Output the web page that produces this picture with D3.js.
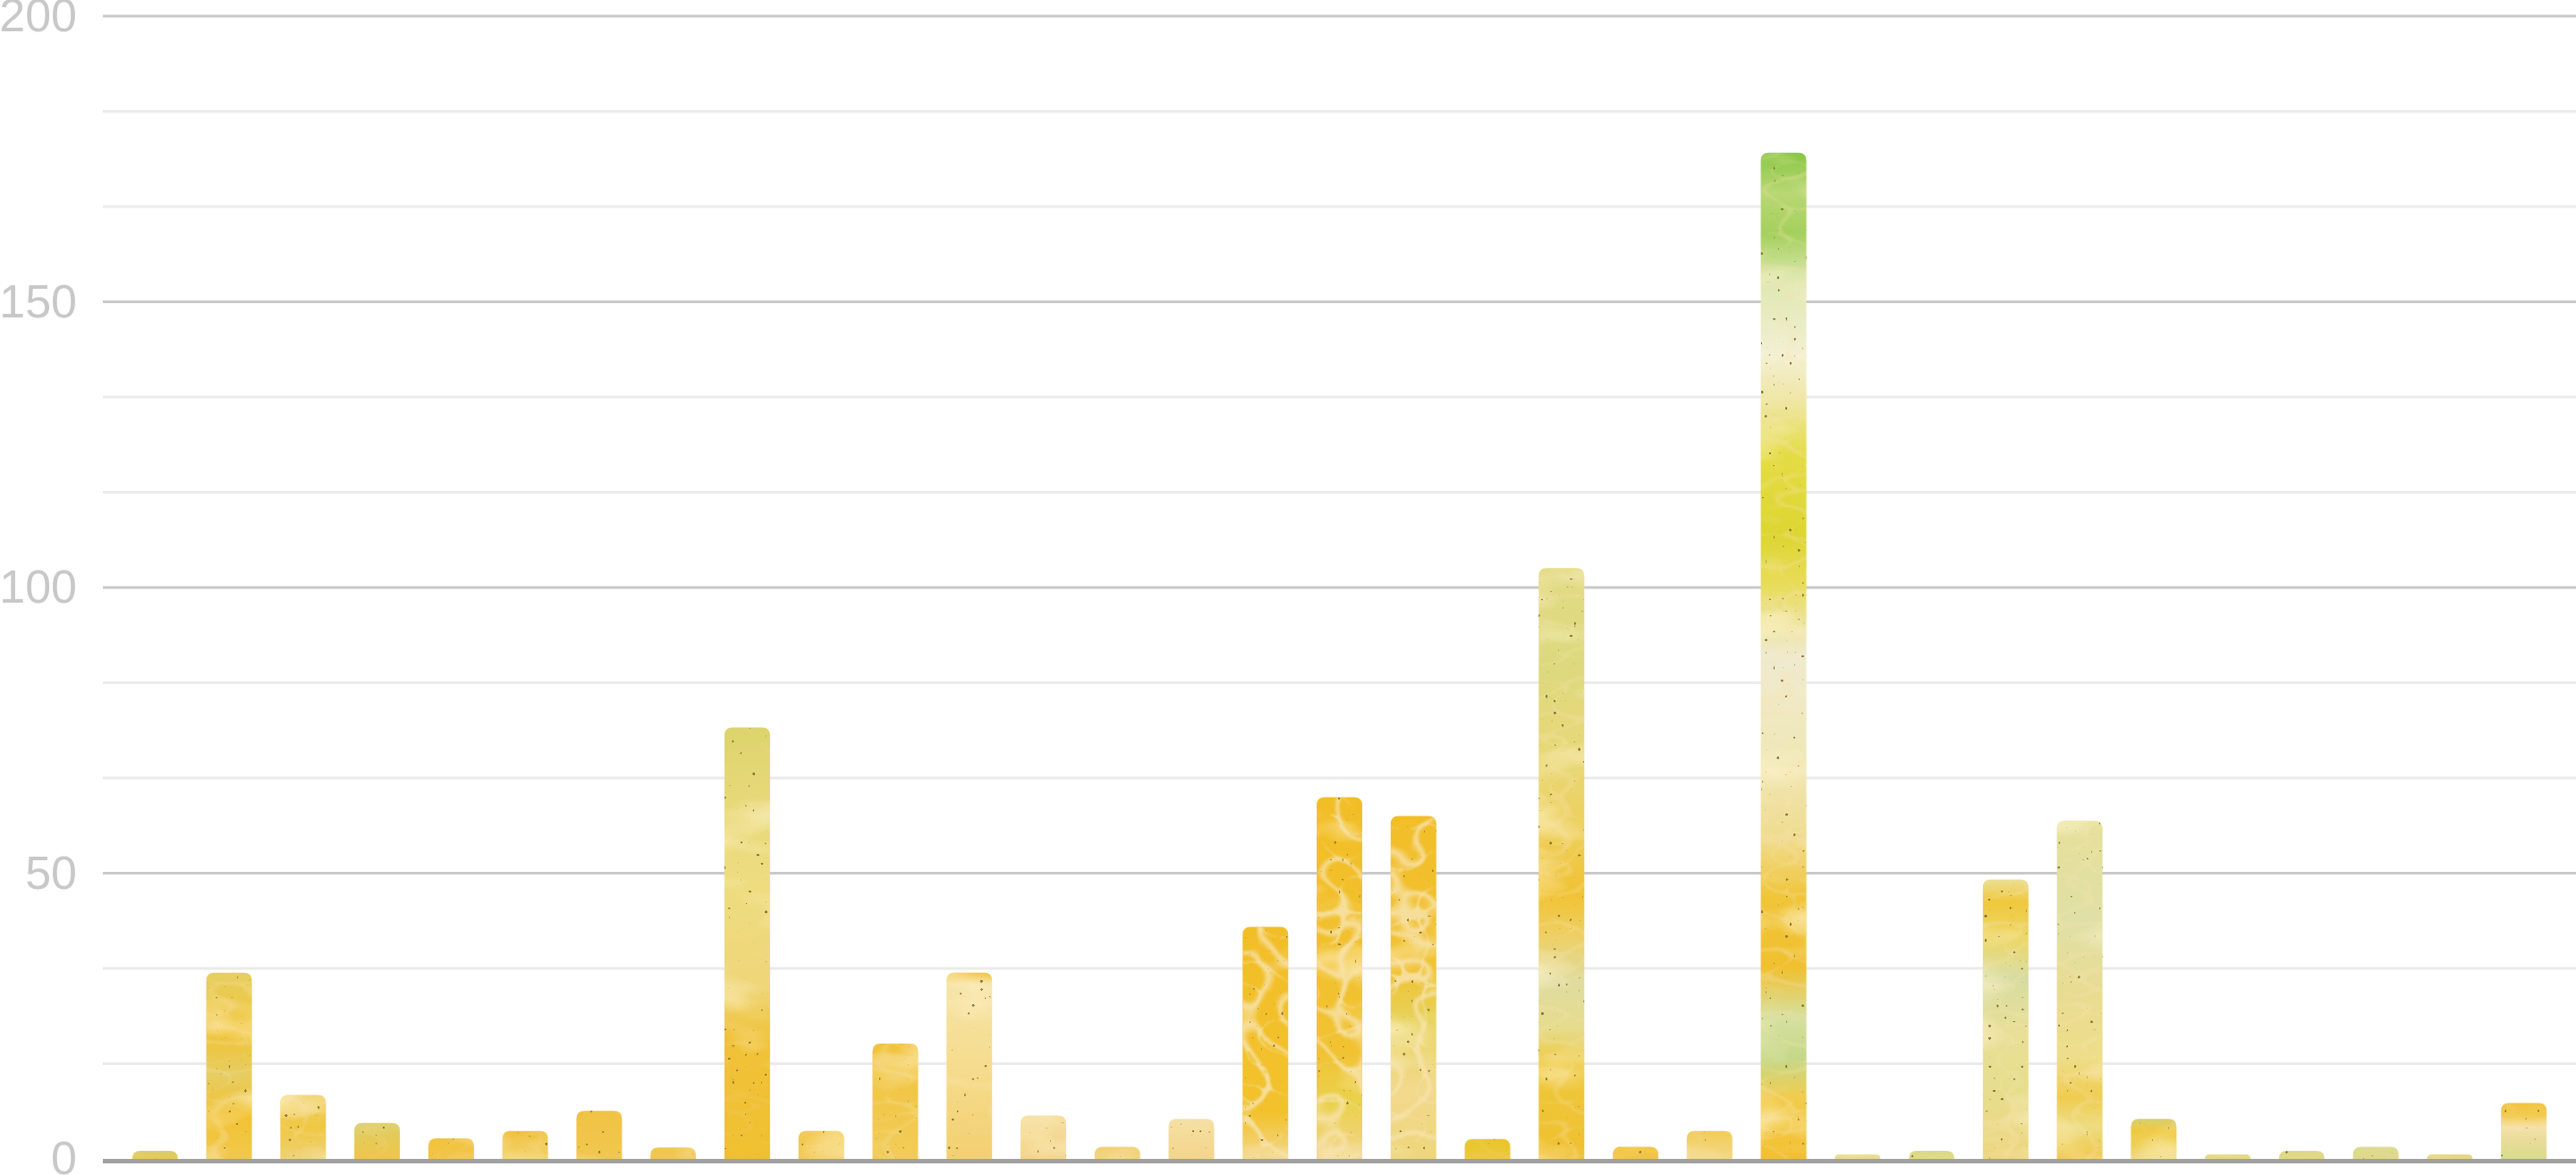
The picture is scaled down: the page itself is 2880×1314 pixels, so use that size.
<!DOCTYPE html>
<html>
<head>
<meta charset="utf-8">
<script src="https://cdn.jsdelivr.net/npm/d3@7"></script>
<style>
  html, body { margin: 0; padding: 0; background: #ffffff; }
  svg { display: block; }
</style>
</head>
<body>
<script>
// ---------- data ----------
const categories = d3.range(1, 34).map(i => "Item " + i);
const values = [1.4, 32.6, 11.2, 6.3, 3.6, 4.9, 8.4, 2.0, 75.5, 4.9, 20.2, 32.6, 7.6, 2.1, 7.0,
                40.6, 63.3, 60.0, 3.5, 103.4, 2.1, 4.9, 176.1, 0.8, 1.4, 48.9, 59.2, 7.0, 0.8, 1.4, 2.1, 0.8, 9.8];
const majorTicks = [0, 50, 100, 150, 200];
const minorTicks = [50/3, 100/3, 200/3, 250/3, 350/3, 400/3, 500/3, 550/3];

// ---------- styles (texture colours, top -> bottom) ----------
const barFills = [
 [[0,"#d3cf6e"],[1,"#ecc94c"]],
 [[0,"#e6cf62"],[0.3,"#f1c230"],[0.55,"#e6cd62"],[0.75,"#f2c232"],[1,"#f1c84c"]],
 [[0,"#efcf66"],[0.5,"#f0c845"],[1,"#eed070"]],
 [[0,"#dccd62"],[1,"#f1c648"]],
 [[0,"#f1c33c"],[1,"#f2c545"]],
 [[0,"#f0c340"],[1,"#f1c84c"]],
 [[0,"#f1c244"],[1,"#f0c84e"]],
 [[0,"#efc64a"],[1,"#f0c850"]],
 [[0,"#dcd46c"],[0.12,"#e5d776"],[0.35,"#eedd80"],[0.6,"#efd678"],[0.72,"#f0c238"],[1,"#f0c030"]],
 [[0,"#f1c33e"],[1,"#f1c84c"]],
 [[0,"#f1c33c"],[1,"#f2cc58"]],
 [[0,"#f0c030"],[0.06,"#f6e4a6"],[0.5,"#f5dc8e"],[1,"#f3d070"]],
 [[0,"#f5dd9c"],[1,"#f4d58a"]],
 [[0,"#f2cf72"],[1,"#f3d57e"]],
 [[0,"#f6e0a4"],[1,"#f3d58a"]],
 [[0,"#f2be28"],[0.8,"#f2c22c"],[1,"#f3d68a"]],
 [[0,"#f2be26"],[0.7,"#f1c232"],[0.85,"#ead24e"],[1,"#f2d48a"]],
 [[0,"#f2be28"],[0.45,"#f1c234"],[0.6,"#e6d25a"],[0.8,"#f2d98e"],[1,"#eed67a"]],
 [[0,"#e8c628"],[1,"#edc840"]],
 [[0,"#e2dc86"],[0.15,"#dcd97e"],[0.32,"#e8d878"],[0.45,"#eecf5a"],[0.55,"#f1c232"],[0.62,"#efcf62"],[0.7,"#dedca0"],[0.78,"#e6dc8c"],[0.84,"#eec83c"],[1,"#f0c030"]],
 [[0,"#f0c032"],[1,"#f1c53e"]],
 [[0,"#f1cc58"],[1,"#f4d886"]],
 [[0,"#88c644"],[0.04,"#b8d874"],[0.08,"#a4d05c"],[0.13,"#dfe8b2"],[0.2,"#f3f0d4"],[0.25,"#eee6a0"],[0.3,"#e4dc44"],[0.38,"#dcd632"],[0.43,"#e8dc5a"],[0.5,"#f0ead0"],[0.6,"#efe8b8"],[0.68,"#f0dc90"],[0.74,"#f0c538"],[0.81,"#f0c030"],[0.86,"#d6e0a0"],[0.9,"#c4d888"],[0.94,"#f2cc4c"],[1,"#f2c030"]],
 [[0,"#e8dc88"],[1,"#e6d680"]],
 [[0,"#d6da84"],[1,"#e4da86"]],
 [[0,"#ecdf94"],[0.08,"#f0c83c"],[0.22,"#ecd86c"],[0.35,"#d6dca0"],[0.55,"#e8e098"],[0.8,"#e6dc8a"],[1,"#efd680"]],
 [[0,"#e6e09a"],[0.3,"#dfe0a6"],[0.5,"#e8dc92"],[0.7,"#eede8a"],[0.82,"#f0cc50"],[0.9,"#eddc80"],[1,"#f0c848"]],
 [[0,"#d6d070"],[0.3,"#f0c83c"],[0.7,"#eed25a"],[1,"#f0d474"]],
 [[0,"#e4dc84"],[1,"#e8d880"]],
 [[0,"#dcda86"],[1,"#e4d882"]],
 [[0,"#dcdc92"],[1,"#e0d888"]],
 [[0,"#e6d884"],[1,"#e8d680"]],
 [[0,"#f0b81a"],[0.25,"#f1c640"],[0.45,"#f4e0a8"],[0.7,"#e8dc98"],[1,"#d8dc8e"]]
];
const barTexture = ["soft","mid","mid","soft","soft","soft","soft","soft","soft","soft","mid","soft","soft","soft","soft",
                    "strong","strong","strong","soft","mid","soft","soft","mid","soft","soft","mid","mid","soft","soft","soft","soft","soft","soft"];

// ---------- layout ----------
const W = 2880, H = 1314;
const svg = d3.select("body").append("svg").attr("width", W).attr("height", H);

const x = d3.scaleBand().domain(categories).range([115, 2880]).paddingInner(0.384).paddingOuter(0.397);
const y = d3.scaleLinear().domain([0, 200]).range([1296, 18]);

const defs = svg.append("defs");

barFills.forEach((stops, i) => {
  const g = defs.append("linearGradient").attr("id", "fill" + i)
    .attr("x1", 0).attr("y1", 0).attr("x2", 0).attr("y2", 1);
  stops.forEach(s => g.append("stop").attr("offset", s[0]).attr("stop-color", s[1]));
});

function makeFilter(id, veinAlpha, veinSlope, freq, seed) {
  const f = defs.append("filter").attr("id", id)
    .attr("x", 0).attr("y", 0).attr("width", 1).attr("height", 1)
    .attr("color-interpolation-filters", "sRGB");
  f.append("feTurbulence").attr("type", "turbulence").attr("baseFrequency", freq)
    .attr("numOctaves", 1).attr("seed", seed).attr("result", "vn");
  f.append("feColorMatrix").attr("in", "vn").attr("type", "matrix")
    .attr("values", `0 0 0 0 0.97  0 0 0 0 0.89  0 0 0 0 0.68  ${-veinSlope} 0 0 0 ${veinAlpha}`)
    .attr("result", "veins");
  f.append("feGaussianBlur").attr("in", "veins").attr("stdDeviation", 0.8).attr("result", "veinsB");
  f.append("feComposite").attr("in", "veinsB").attr("in2", "SourceAlpha").attr("operator", "in").attr("result", "veinsC");
  f.append("feTurbulence").attr("type", "fractalNoise").attr("baseFrequency", "0.008 0.018")
    .attr("numOctaves", 3).attr("seed", seed + 11).attr("result", "bn");
  f.append("feColorMatrix").attr("in", "bn").attr("type", "matrix")
    .attr("values", "0 0 0 0 1  0 0 0 0 0.96  0 0 0 0 0.82  2.0 0 0 0 -1.05")
    .attr("result", "blot");
  f.append("feComposite").attr("in", "blot").attr("in2", "SourceAlpha").attr("operator", "in").attr("result", "blotC");
  f.append("feTurbulence").attr("type", "fractalNoise").attr("baseFrequency", "0.22")
    .attr("numOctaves", 1).attr("seed", seed + 5).attr("result", "sn");
  f.append("feColorMatrix").attr("in", "sn").attr("type", "matrix")
    .attr("values", "0 0 0 0 0.55  0 0 0 0 0.48  0 0 0 0 0.22  26 0 0 0 -18.9")
    .attr("result", "dots");
  f.append("feComposite").attr("in", "dots").attr("in2", "SourceAlpha").attr("operator", "in").attr("result", "dotsC");
  const m = f.append("feMerge");
  m.append("feMergeNode").attr("in", "SourceGraphic");
  m.append("feMergeNode").attr("in", "blotC");
  m.append("feMergeNode").attr("in", "veinsC");
  m.append("feMergeNode").attr("in", "dotsC");
}
makeFilter("strong", 0.85, 8, "0.022 0.026", 4);
makeFilter("mid", 0.3, 5, "0.012 0.03", 9);
makeFilter("soft", 0.12, 3, "0.01 0.03", 2);

// ---------- gridlines ----------
const grid = svg.append("g");
grid.selectAll("line.minor").data(minorTicks).join("line")
  .attr("class", "minor")
  .attr("x1", 115).attr("x2", 2880)
  .attr("y1", d => y(d)).attr("y2", d => y(d))
  .attr("stroke", "#ebebeb").attr("stroke-width", 3);
grid.selectAll("line.major").data(majorTicks.filter(d => d > 0)).join("line")
  .attr("class", "major")
  .attr("x1", 115).attr("x2", 2880)
  .attr("y1", d => y(d)).attr("y2", d => y(d))
  .attr("stroke", "#c9c9c9").attr("stroke-width", 3);

// ---------- bars ----------
function topRounded(x0, y0, w, h, r) {
  r = Math.min(r, h, w / 2);
  return `M${x0},${y0 + h}V${y0 + r}Q${x0},${y0} ${x0 + r},${y0}H${x0 + w - r}Q${x0 + w},${y0} ${x0 + w},${y0 + r}V${y0 + h}Z`;
}
svg.append("g").selectAll("path").data(values).join("path")
  .attr("d", (d, i) => {
    const x0 = x(categories[i]);
    const y0 = y(d);
    return topRounded(x0, y0, x.bandwidth(), y(0) - y0, 9);
  })
  .attr("fill", (d, i) => `url(#fill${i})`)
  .attr("filter", (d, i) => `url(#${barTexture[i]})`);

// ---------- base axis line ----------
svg.append("line")
  .attr("x1", 115).attr("x2", 2880)
  .attr("y1", y(0) + 2.5).attr("y2", y(0) + 2.5)
  .attr("stroke", "#a0a0a0").attr("stroke-width", 5);

// ---------- y labels ----------
const yAxis = d3.axisLeft(y).tickValues(majorTicks).tickSize(0).tickPadding(29).tickFormat(d3.format("d"));
const ag = svg.append("g").attr("transform", "translate(115,0)").call(yAxis);
ag.select(".domain").remove();
ag.selectAll("text")
  .attr("fill", "#c8c8c8")
  .style("font-family", "'Liberation Sans', Arial, sans-serif")
  .style("font-size", "52px");
</script>
</body>
</html>
